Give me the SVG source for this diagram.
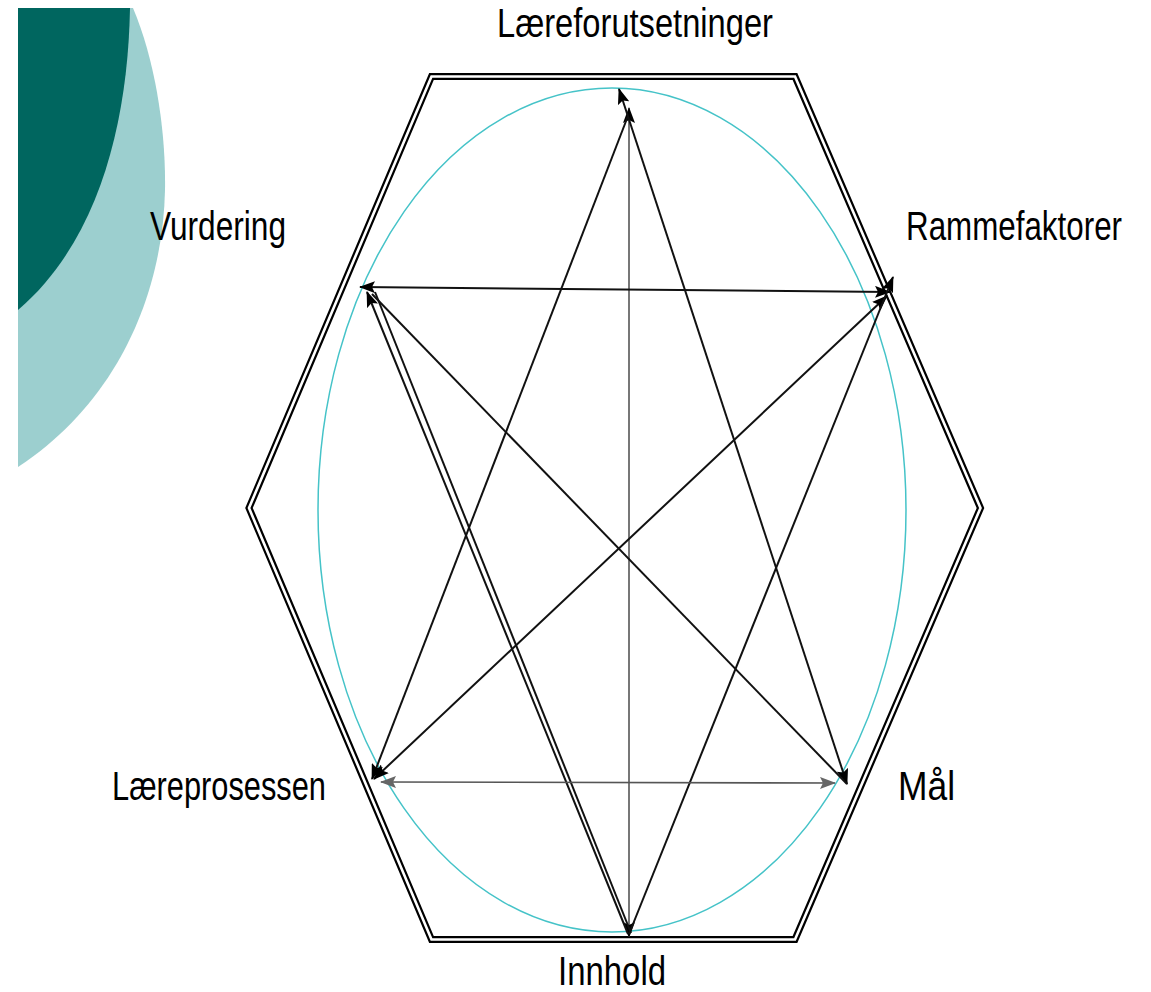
<svg xmlns="http://www.w3.org/2000/svg" width="1151" height="992" viewBox="0 0 1151 992">
<style>
.lbl{font-family:"Comic Sans MS","Liberation Sans",sans-serif;font-size:40px;fill:#000}
.ln{stroke:#111;stroke-width:2;fill:none}
.gl{stroke:#555;stroke-width:1.6;fill:none}
</style>
<defs>
<marker id="ah" viewBox="0 0 16 12" refX="15" refY="6" markerWidth="16" markerHeight="12" markerUnits="userSpaceOnUse" orient="auto-start-reverse">
<path d="M0,0 L16,6 L0,12 L3,6 Z" fill="#000"/>
</marker>
<marker id="ahg" viewBox="0 0 16 12" refX="15" refY="6" markerWidth="16" markerHeight="12" markerUnits="userSpaceOnUse" orient="auto-start-reverse">
<path d="M0,0 L16,6 L0,12 L3,6 Z" fill="#666"/>
</marker>
</defs>
<rect width="1151" height="992" fill="#fff"/>
<g id="decor">
<path d="M18,8 L133,8 C155,60 166,130 165,190 C163,290 120,400 18,467 Z" fill="#9ccfcf"/>
<path d="M18,8 L130,8 C128,120 100,240 18,310 Z" fill="#00665f"/>
</g>
<g id="frame">
<polygon points="431.5,76.5 795,76.5 980.5,508 795,939.5 431.5,939.5 249,508" fill="none" stroke="#000" stroke-width="7" stroke-linejoin="miter"/>
<polygon points="431.5,76.5 795,76.5 980.5,508 795,939.5 431.5,939.5 249,508" fill="none" stroke="#fff" stroke-width="2.6" stroke-linejoin="miter"/>
<ellipse cx="612" cy="510" rx="294" ry="422" fill="none" stroke="#45c3c8" stroke-width="1.5"/>
</g>
<g id="connectors">
<line class="gl" x1="629" y1="937" x2="629" y2="108" marker-end="url(#ah)" marker-start="url(#ah)"/>
<line class="ln" x1="628" y1="116" x2="372" y2="779" marker-end="url(#ah)"/>
<line class="ln" x1="847" y1="784" x2="619" y2="89" marker-end="url(#ah)" marker-start="url(#ah)"/>
<line class="ln" x1="360" y1="287" x2="890" y2="292" marker-end="url(#ah)" marker-start="url(#ah)"/>
<line class="ln" x1="372" y1="294" x2="847" y2="784"/>
<line class="ln" x1="628" y1="934" x2="367" y2="292" marker-end="url(#ah)"/>
<line class="ln" x1="631" y1="933" x2="375" y2="292"/>
<line class="ln" x1="887" y1="296" x2="374" y2="779" marker-end="url(#ah)" marker-start="url(#ah)"/>
<line class="ln" x1="629" y1="934" x2="893" y2="277" marker-end="url(#ah)"/>
<line class="gl" x1="381" y1="782" x2="835" y2="783" marker-end="url(#ahg)" marker-start="url(#ahg)"/>
</g>
<g id="n-laereforutsetninger"><text class="lbl" x="497" y="37" textLength="276" lengthAdjust="spacingAndGlyphs">Læreforutsetninger</text></g>
<g id="n-vurdering"><text class="lbl" x="150" y="240" textLength="136" lengthAdjust="spacingAndGlyphs">Vurdering</text></g>
<g id="n-rammefaktorer"><text class="lbl" x="906" y="240" textLength="216" lengthAdjust="spacingAndGlyphs">Rammefaktorer</text></g>
<g id="n-laereprosessen"><text class="lbl" x="112" y="800" textLength="214" lengthAdjust="spacingAndGlyphs">Læreprosessen</text></g>
<g id="n-maal"><text class="lbl" x="898" y="800" textLength="57" lengthAdjust="spacingAndGlyphs">Mål</text></g>
<g id="n-innhold"><text class="lbl" x="558" y="985" textLength="108" lengthAdjust="spacingAndGlyphs">Innhold</text></g>
</svg>
